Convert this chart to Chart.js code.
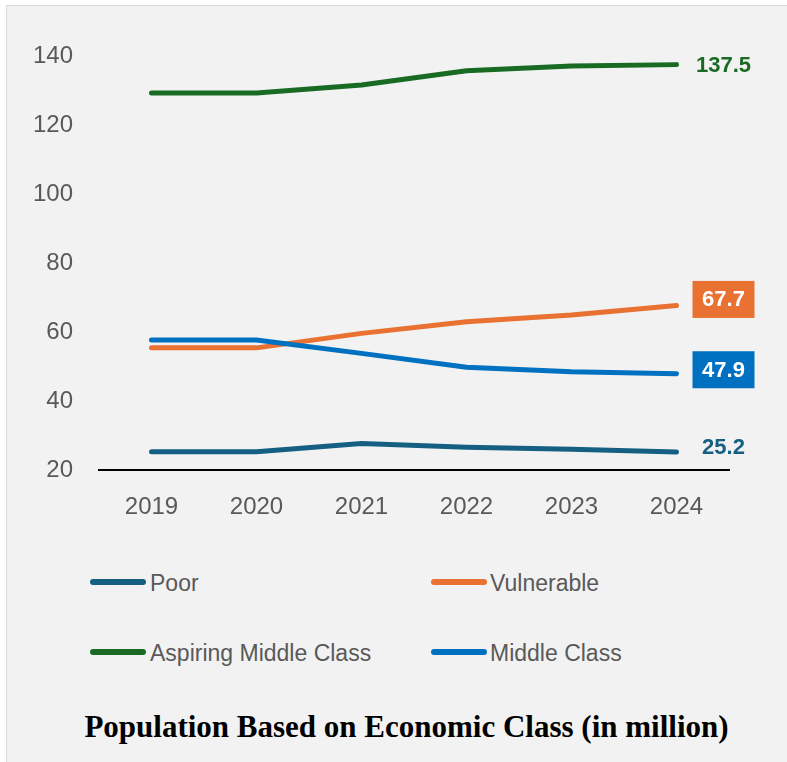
<!DOCTYPE html>
<html>
<head>
<meta charset="utf-8">
<script src="https://cdn.jsdelivr.net/npm/chart.js@4/dist/chart.umd.min.js"></script>
<style>
  html, body { margin: 0; padding: 0; background: #ffffff; }
  body { width: 787px; height: 762px; position: relative; overflow: hidden; }
  #panel { position: absolute; left: 6px; top: 5px; width: 800px; height: 800px;
           background: #f2f2f2; border-left: 1px solid #d9d9d9; border-top: 1px solid #d9d9d9; }
  #wrap { position: absolute; left: 0; top: 0; width: 787px; height: 540px; }
  .leg { position: absolute; height: 23px; line-height: 23px; font-family: "Liberation Sans", Arial, sans-serif;
         font-size: 23px; color: #595959; white-space: nowrap; }
  .sw { position: absolute; height: 6px; border-radius: 3px; }
  #title { position: absolute; left: 0; width: 813px; top: 711px; text-align: center;
           font-family: "Liberation Serif", "Times New Roman", serif; font-weight: bold;
           font-size: 31px; line-height: 31px; color: #000; white-space: nowrap; }
</style>
</head>
<body>
<div id="panel"></div>
<div id="wrap"><canvas id="c" width="787" height="540"></canvas></div>
<div id="legend"></div>
<div id="title">Population Based on Economic Class (in million)</div>
<script>
// ---- data ----
const years = ['2019', '2020', '2021', '2022', '2023', '2024'];
const poor = [25.3, 25.3, 27.7, 26.6, 26.0, 25.2];
const vulnerable = [55.4, 55.4, 59.6, 63.0, 64.9, 67.7];
const aspiring = [129.3, 129.3, 131.6, 135.7, 137.1, 137.5];
const middleClass = [57.7, 57.7, 53.8, 49.8, 48.5, 47.9];
const seriesNames = ['Poor', 'Vulnerable', 'Aspiring Middle Class', 'Middle Class'];
const endLabels = ['25.2', '67.7', '137.5', '47.9'];
const yTicks = [20, 40, 60, 80, 100, 120, 140];

const colors = ['#156082', '#E97132', '#196B24', '#0070C0'];
const labelStyle = [
  { boxed: false, color: '#156082', dy: -5 },
  { boxed: true, color: '#ffffff', dy: -6 },
  { boxed: false, color: '#196B24', dy: 0 },
  { boxed: true, color: '#ffffff', dy: -4 }
];
const allValues = [poor, vulnerable, aspiring, middleClass];

const datasets = allValues.map((vals, i) => ({
  label: seriesNames[i],
  data: vals,
  borderColor: colors[i],
  backgroundColor: colors[i],
  borderWidth: 5,
  borderCapStyle: 'round',
  borderJoinStyle: 'round',
  pointRadius: 0,
  pointHoverRadius: 0,
  tension: 0,
  fill: false,
  order: 4 - i
}));

const endLabelPlugin = {
  id: 'endLabels',
  afterDatasetsDraw(chart) {
    const ctx = chart.ctx;
    ctx.save();
    ctx.font = 'bold 22px "Liberation Sans", Arial, sans-serif';
    ctx.textAlign = 'center';
    ctx.textBaseline = 'middle';
    chart.data.datasets.forEach((ds, i) => {
      const meta = chart.getDatasetMeta(i);
      const pt = meta.data[meta.data.length - 1];
      const st = labelStyle[i];
      const cx = pt.x + 47;
      const cy = pt.y + st.dy;
      if (st.boxed) {
        ctx.fillStyle = colors[i];
        ctx.fillRect(cx - 31, cy - 18.5, 62, 37);
      }
      ctx.fillStyle = st.color;
      ctx.fillText(endLabels[i], cx, cy + 1);
    });
    ctx.restore();
  }
};

const chart = new Chart(document.getElementById('c'), {
  type: 'line',
  data: { labels: years, datasets },
  options: {
    responsive: false,
    animation: false,
    devicePixelRatio: 1,
    layout: { padding: { left: 0, right: 58, top: 56, bottom: 0 } },
    plugins: { legend: { display: false }, tooltip: { enabled: false }, title: { display: false } },
    scales: {
      x: {
        offset: true,
        grid: { display: false, drawTicks: false },
        border: { display: true, color: '#000000', width: 2 },
        ticks: { color: '#595959', font: { family: '"Liberation Sans", Arial, sans-serif', size: 24 }, padding: 23, maxRotation: 0 },
        afterFit(scale) { scale.height = 70; }
      },
      y: {
        min: 20, max: 140,
        afterBuildTicks(scale) { scale.ticks = yTicks.map(v => ({ value: v })); },
        grid: { display: false, drawTicks: false },
        border: { display: false },
        ticks: { color: '#595959', font: { family: '"Liberation Sans", Arial, sans-serif', size: 24 }, padding: 26 },
        afterFit(scale) { scale.width = 99; }
      }
    }
  },
  plugins: [endLabelPlugin]
});

// ---- legend (HTML, built from the series) ----
const legendPos = [
  { sx: 90, tx: 150, cy: 582 },
  { sx: 431, tx: 490, cy: 582 },
  { sx: 90, tx: 150, cy: 652 },
  { sx: 431, tx: 490, cy: 652 }
];
const legend = document.getElementById('legend');
seriesNames.forEach((name, i) => {
  const p = legendPos[i];
  const sw = document.createElement('div');
  sw.className = 'sw';
  sw.style.left = p.sx + 'px';
  sw.style.width = '56px';
  sw.style.top = (p.cy - 3) + 'px';
  sw.style.background = colors[i];
  legend.appendChild(sw);
  const t = document.createElement('div');
  t.className = 'leg';
  t.style.left = p.tx + 'px';
  t.style.top = (p.cy - 10.5) + 'px';
  t.textContent = name;
  legend.appendChild(t);
});
</script>
</body>
</html>
